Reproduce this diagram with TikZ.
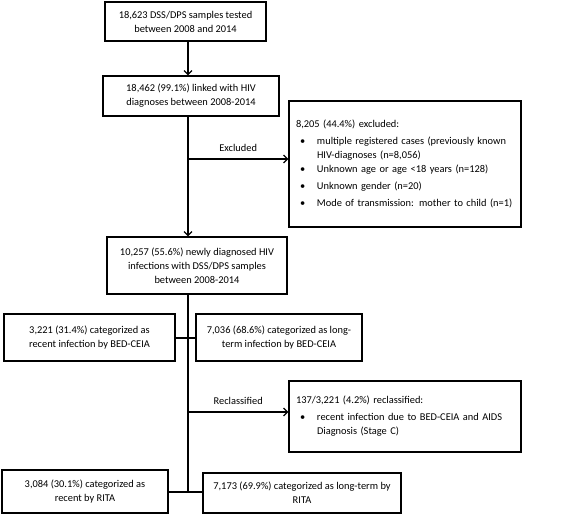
\documentclass[tikz,border=0pt]{standalone}
\usepackage{fontspec}
\setmainfont{Carlito}
\usetikzlibrary{positioning, arrows.meta}

% bullet line with indented wrap
\newcommand{\bitem}[1]{\par\hspace*{4pt}\makebox[17pt][l]{\textbullet}\parbox[t]{197pt}{\raggedright #1}\par}

\begin{document}
\begin{tikzpicture}[x=1pt, y={(0,-1pt)}]
	% 定义样式
	\tikzset{
		box/.style = {
			draw, line width=1.2pt,
			align=center, inner sep=2pt,
			font=\fontsize{10.4}{14}\selectfont
		},
		listbox/.style = {
			draw, line width=1.2pt,
			align=left, inner xsep=7pt, inner ysep=4pt,
			text width=218pt, minimum width=232pt,
			font=\fontsize{10.4}{14}\selectfont
		},
		arr/.style = {line width=1.2pt, -{Straight Barb[length=4pt,width=8pt]}},
		ln/.style = {line width=1.2pt}
	}
	\useasboundingbox (0,0) rectangle (567,514);

	% 主干上的节点
	\node[box, minimum width=161pt, minimum height=39pt] (box1) at (185.5,21.5)
		{18,623 DSS/DPS samples tested\\between 2008 and 2014};
	\node[box, minimum width=176pt, minimum height=40pt] (box2) at (191,96)
		{18,462 (99.1\%) linked with HIV\\diagnoses between 2008-2014};
	\node[box, minimum width=180pt, minimum height=57pt] (box3) at (197,265.5)
		{10,257 (55.6\%) newly diagnosed HIV\\infections with DSS/DPS samples\\between 2008-2014};

	% BED-CEIA
	\node[box, minimum width=171pt, minimum height=47pt] (bedrecent) at (89.5,337.5)
		{3,221 (31.4\%) categorized as\\recent infection by BED-CEIA};
	\node[box, minimum width=166pt, minimum height=47pt] (bedlong) at (279,337.5)
		{7,036 (68.6\%) categorized as long-\\term infection by BED-CEIA};

	% RITA
	\node[box, minimum width=166pt, minimum height=43pt] (ritarecent) at (85,491.5)
		{3,084 (30.1\%) categorized as\\recent by RITA};
	\node[box, minimum width=198pt, minimum height=40pt] (ritalong) at (302,493)
		{7,173 (69.9\%) categorized as long-term by\\RITA};

	% 右侧说明框
	\node[listbox, minimum height=126pt] (excl) at (405,164) {%
		8,205 (44.4\%) excluded:\vspace{3pt}
		\bitem{multiple registered cases (previously known HIV-diagnoses (n=8,056)}\vspace{3pt}
		\bitem{Unknown age or age <18 years (n=128)}\vspace{3pt}
		\bitem{Unknown gender (n=20)}\vspace{3pt}
		\bitem{Mode of transmission: mother to child (n=1)}};
	\node[listbox, minimum height=71pt] (reclass) at (405,416.5) {%
		137/3,221 (4.2\%) reclassified:\vspace{3pt}
		\bitem{recent infection due to BED-CEIA and AIDS Diagnosis (Stage C)}};

	% 主干上的分叉点
	\coordinate (fork1) at (188,159);
	\coordinate (fork2) at (188,338);
	\coordinate (fork3) at (188,412);
	\coordinate (fork4) at (188,492);

	% 连线
	\draw[arr] (box1.south -| fork1) -- (box2.north -| fork1);
	\draw[arr] (box2.south -| fork1) -- (box3.north -| fork1);
	\draw[arr] (fork1) -- node[above=3pt, font=\fontsize{10.4}{14}\selectfont] {Excluded} (fork1 -| excl.west);
	\draw[ln] (box3.south -| fork2) -- (fork4);
	\draw[ln] (bedrecent.east |- fork2) -- (bedlong.west |- fork2);
	\draw[arr] (fork3) -- node[above=3pt, font=\fontsize{10.4}{14}\selectfont] {Reclassified} (fork3 -| reclass.west);
	\draw[ln] (ritarecent.east |- fork4) -- (ritalong.west |- fork4);
\end{tikzpicture}
\end{document}
